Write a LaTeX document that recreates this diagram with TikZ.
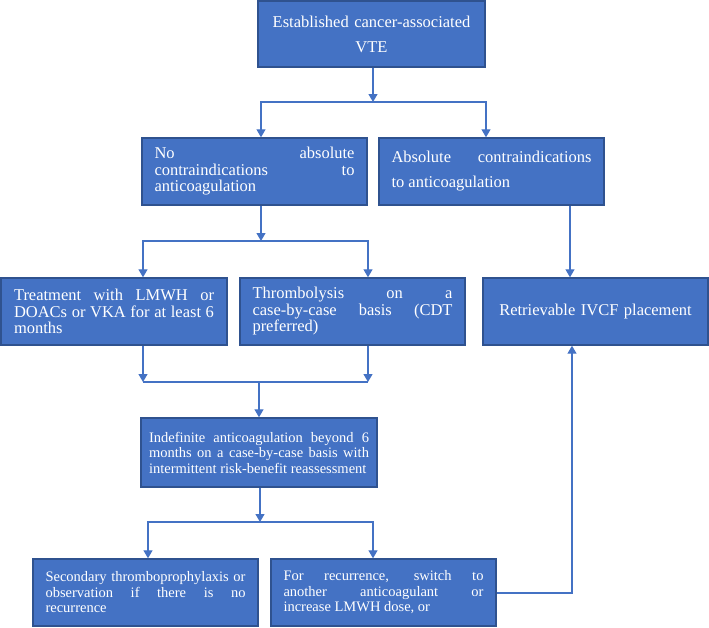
\documentclass[tikz,border=0pt]{standalone}
\usepackage{fontspec}
\setmainfont{Liberation Serif}
\usetikzlibrary{arrows.meta}
\definecolor{boxfill}{HTML}{4472C4}
\definecolor{boxline}{HTML}{2F528F}
\definecolor{connc}{HTML}{4472C4}
\begin{document}
\begin{tikzpicture}[x=1pt,y=-1pt,
  box/.style={draw=boxline, line width=1.4pt, fill=boxfill, text=white, inner sep=0pt,
    minimum width=225pt, minimum height=67pt, align=justify, text width=200pt,
    font=\fontsize{16.5}{16.5}\selectfont,
    execute at begin node={\tolerance=10000\hbadness=10000\hyphenpenalty=10000\exhyphenpenalty=10000}},
  wide/.style={font=\fontsize{16.5}{25}\selectfont},
  small/.style={font=\fontsize{14.5}{15.5}\selectfont},
  conn/.style={draw=connc, line width=1.2pt},
  arr/.style={conn, -{Triangle[length=8pt,width=9pt]}}]
\useasboundingbox (0,0) rectangle (709,627);
% nodes
\node[box, wide, align=center, minimum width=227pt, minimum height=66pt] (top) at (371.5,34) {Established cancer-associated\\VTE};
\node[box] (noabs) at (254.5,171.5) {No absolute\linebreak contraindications to\linebreak anticoagulation};
\node[box, wide] (abs) at (491.5,171.5) {Absolute contraindications\linebreak to anticoagulation};
\node[box, minimum width=226pt] (treat) at (114,311.5) {Treatment with LMWH or\linebreak DOACs or VKA for at least 6\linebreak months};
\node[box] (thromb) at (352.5,311.5) {Thrombolysis on a\linebreak case-by-case basis (CDT\linebreak preferred)};
\node[box, align=center] (ivcf) at (595.5,311.5) {Retrievable IVCF placement};
\node[box, small, minimum width=236pt, minimum height=69pt, text width=220pt] (indef) at (259,452.5) {Indefinite anticoagulation beyond 6\linebreak months on a case-by-case basis with\linebreak intermittent risk-benefit reassessment};
\node[box, small] (second) at (145.5,592.5) {Secondary thromboprophylaxis or\linebreak observation if there is no\linebreak recurrence};
\node[box, small] (recur) at (383.5,592.5) {For recurrence, switch to\linebreak another anticoagulant or\linebreak increase LMWH dose, or};
% split 1
\coordinate (b1) at (373,102);
\coordinate (b1l) at (261,102);
\coordinate (b1r) at (486,102);
\draw[arr] (top.south -| b1) -- (b1);
\draw[arr] (b1) -| (b1l |- noabs.north);
\draw[arr] (b1) -| (b1r |- abs.north);
% split 2
\coordinate (b2) at (261,241);
\coordinate (b2l) at (143,241);
\coordinate (b2r) at (368,241);
\draw[arr] (noabs.south -| b2) -- (b2);
\draw[arr] (b2) -| (b2l |- treat.north);
\draw[arr] (b2) -| (b2r |- thromb.north);
% absolute -> IVCF
\coordinate (v1) at (570,250);
\draw[arr] (abs.south -| v1) -- (ivcf.north -| v1);
% join
\coordinate (j1) at (259,382);
\coordinate (j1l) at (143,382);
\coordinate (j1r) at (368,382);
\draw[arr] (treat.south -| j1l) -- (j1l);
\draw[arr] (thromb.south -| j1r) -- (j1r);
\draw[conn] (j1l) -- (j1r);
\draw[arr] (j1) -- (j1 |- indef.north);
% split 3
\coordinate (b3) at (260,522);
\coordinate (b3l) at (148,522);
\coordinate (b3r) at (373,522);
\draw[arr] (indef.south -| b3) -- (b3);
\draw[arr] (b3) -| (b3l |- second.north);
\draw[arr] (b3) -| (b3r |- recur.north);
% feedback
\coordinate (fb) at (572,593);
\draw[arr] (recur.east |- fb) -- (fb) -- (fb |- ivcf.south);
\end{tikzpicture}
\end{document}
